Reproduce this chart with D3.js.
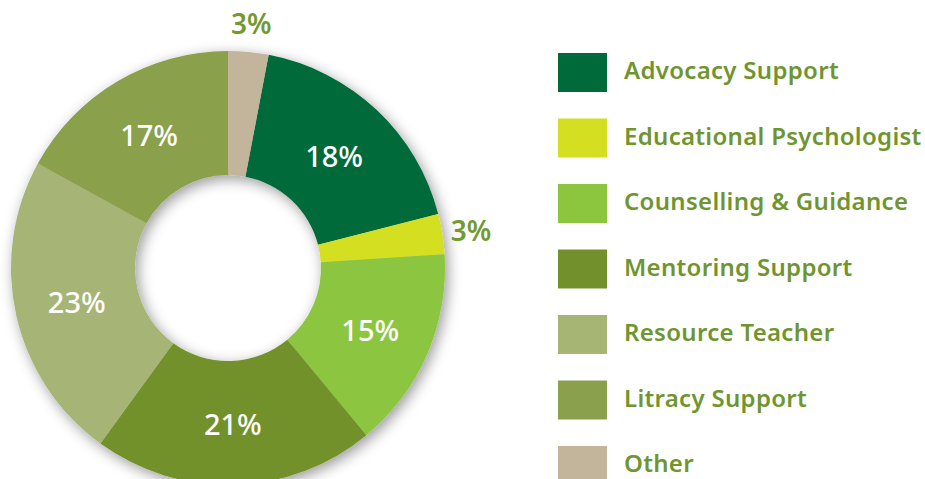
<!DOCTYPE html>
<html>
<head>
<meta charset="utf-8">
<script src="https://cdn.jsdelivr.net/npm/d3@7"></script>
<style>
  body { margin: 0; background: #fff; }
  svg { display: block; font-family: "Noto Sans", sans-serif; }
</style>
</head>
<body>
<svg class="chart"></svg>
<script>
// support types, in legend order
var categories = ["Advocacy Support", "Educational Psychologist", "Counselling & Guidance",
                  "Mentoring Support", "Resource Teacher", "Litracy Support", "Other"];
var values = [18, 3, 15, 21, 23, 17, 3];
var colors = ["#006a3a", "#d4df22", "#8cc63f", "#72912c", "#a6b574", "#8aa04c", "#c2b59b"];
// slices that get their label outside the ring
var outside = ["Educational Psychologist", "Other"];

var width = 925, height = 479;
var cx = 228, cy = 268, outerR = 217, innerR = 93;

var svg = d3.select(".chart")
  .attr("width", width)
  .attr("height", height);

var defs = svg.append("defs");
var shadow = defs.append("filter")
  .attr("id", "shadow")
  .attr("x", "-20%").attr("y", "-20%")
  .attr("width", "140%").attr("height", "140%");
shadow.append("feDropShadow")
  .attr("dx", 3).attr("dy", 4)
  .attr("stdDeviation", 7)
  .attr("flood-color", "#000")
  .attr("flood-opacity", 0.4);

var data = categories.map(function(c, i) {
  return { name: c, value: values[i], color: colors[i] };
});

// "Other" sits at 12 o'clock, so the ring starts after it
var total = d3.sum(values);
var offset = values[values.length - 1] / total * 2 * Math.PI;

var pie = d3.pie()
  .sort(null)
  .value(function(d) { return d.value; })
  .startAngle(offset)
  .endAngle(offset + 2 * Math.PI);

var arc = d3.arc().innerRadius(innerR).outerRadius(outerR);
var labelArc = d3.arc().innerRadius(246).outerRadius(246);

var g = svg.append("g").attr("transform", "translate(" + cx + "," + cy + ")");

g.append("g")
  .attr("filter", "url(#shadow)")
  .selectAll("path")
  .data(pie(data))
  .enter()
  .append("path")
  .attr("d", arc)
  .attr("fill", function(d) { return d.data.color; });

g.selectAll("text.pct")
  .data(pie(data))
  .enter()
  .append("text")
  .attr("class", "pct")
  .attr("transform", function(d) {
    var p = outside.indexOf(d.data.name) >= 0 ? labelArc.centroid(d) : arc.centroid(d);
    return "translate(" + p + ")";
  })
  .attr("text-anchor", "middle")
  .attr("dy", "0.4em")
  .attr("font-size", function(d) { return outside.indexOf(d.data.name) >= 0 ? 28 : 29; })
  .attr("font-weight", function(d) { return outside.indexOf(d.data.name) >= 0 ? 600 : 500; })
  .attr("fill", function(d) { return outside.indexOf(d.data.name) >= 0 ? "#729a2f" : "#fff"; })
  .text(function(d) { return d.data.value + "%"; });

// legend
var legendY = d3.scaleBand()
  .domain(categories)
  .range([53, 53 + 65.5 * categories.length]);

var legend = svg.append("g").attr("class", "legend");

var item = legend.selectAll("g")
  .data(data)
  .enter()
  .append("g")
  .attr("transform", function(d) { return "translate(558," + legendY(d.name) + ")"; });

item.append("rect")
  .attr("width", 49)
  .attr("height", 39)
  .attr("fill", function(d) { return d.color; });

item.append("text")
  .attr("x", 66)
  .attr("y", 17)
  .attr("dy", "0.38em")
  .attr("font-size", 24)
  .attr("font-weight", 600)
  .attr("letter-spacing", 0.3)
  .attr("fill", "#6f952f")
  .text(function(d) { return d.name; });
</script>
</body>
</html>
